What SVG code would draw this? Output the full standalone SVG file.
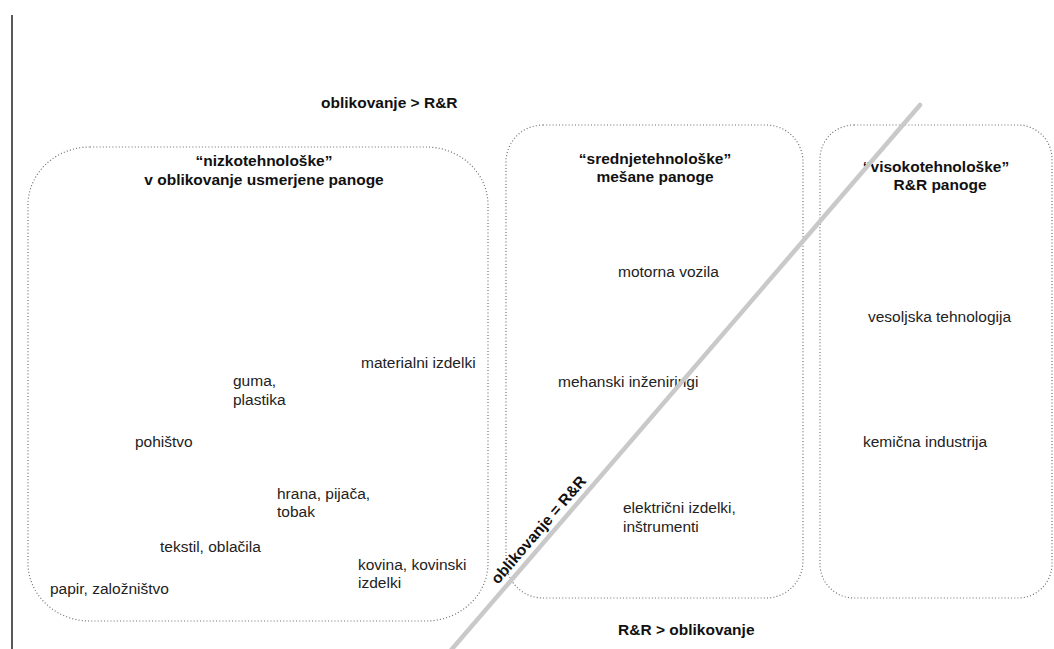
<svg xmlns="http://www.w3.org/2000/svg" width="1054" height="649" viewBox="0 0 1054 649">
<style>
.box{fill:none;stroke:#6e6e6e;stroke-width:1.2;stroke-dasharray:1 2.2}
.t{font-family:"Liberation Sans",Arial,sans-serif;font-size:15.5px;fill:#222}
.b{font-family:"Liberation Sans",Arial,sans-serif;font-size:15.5px;font-weight:bold;fill:#111}
.m{text-anchor:middle}
</style>
<rect width="1054" height="649" fill="#fff"/>
<line x1="12" y1="15" x2="12" y2="649" stroke="#222" stroke-width="1.5"/>
<g id="axis-labels">
<text class="b" x="321" y="108">oblikovanje &gt; R&amp;R</text>
<text class="b" x="618" y="635">R&amp;R &gt; oblikovanje</text>
</g>
<g id="node-nizko">
<rect class="box" x="28" y="147" width="460" height="474" rx="62" ry="58"/>
<text class="b m" x="264" y="166">“nizkotehnološke”</text>
<text class="b m" x="264" y="185">v oblikovanje usmerjene panoge</text>
<text class="t" x="361" y="368">materialni izdelki</text>
<text class="t" x="233" y="386">guma,</text>
<text class="t" x="233" y="405">plastika</text>
<text class="t" x="135" y="447">pohištvo</text>
<text class="t" x="277" y="499">hrana, pijača,</text>
<text class="t" x="277" y="517">tobak</text>
<text class="t" x="160" y="552">tekstil, oblačila</text>
<text class="t" x="358" y="570">kovina, kovinski</text>
<text class="t" x="358" y="588">izdelki</text>
<text class="t" x="50" y="594">papir, založništvo</text>
</g>
<g id="node-srednje">
<rect class="box" x="506" y="125" width="297" height="473" rx="37" ry="37"/>
<text class="b m" x="655" y="164">“srednjetehnološke”</text>
<text class="b m" x="655" y="182">mešane panoge</text>
<text class="t" x="618" y="277">motorna vozila</text>
<text class="t" x="558" y="387">mehanski inženiringi</text>
<text class="t" x="623" y="513">električni izdelki,</text>
<text class="t" x="623" y="532">inštrumenti</text>
</g>
<g id="node-visoko">
<rect class="box" x="820" y="125" width="232" height="473" rx="34" ry="34"/>
<text class="b m" x="936" y="172">“visokotehnološke”</text>
<text class="b m" x="940" y="190">R&amp;R panoge</text>
<text class="t" x="868" y="322">vesoljska tehnologija</text>
<text class="t" x="863" y="447">kemična industrija</text>
</g>
<g id="connectors">
<line x1="920" y1="105" x2="446" y2="656" stroke="#c9c9c9" stroke-width="4.5" stroke-linecap="round"/>
<text class="b" transform="translate(498,585) rotate(-49.3)">oblikovanje = R&amp;R</text>
</g>
</svg>
